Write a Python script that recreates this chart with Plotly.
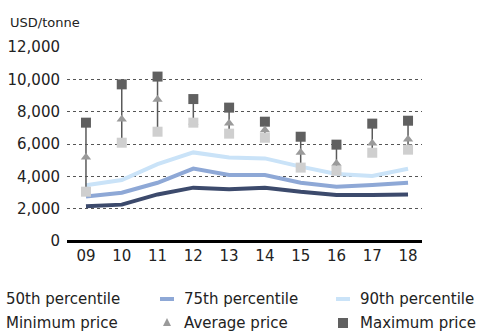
import plotly.graph_objects as go

years = ["09", "10", "11", "12", "13", "14", "15", "16", "17", "18"]
p50 = [2150, 2250, 2880, 3300, 3200, 3300, 3050, 2850, 2850, 2880]
p75 = [2750, 2990, 3600, 4480, 4080, 4080, 3600, 3360, 3460, 3600]
p90 = [3450, 3770, 4760, 5480, 5170, 5110, 4600, 4140, 4020, 4470]
min_price = [3050, 6080, 6760, 7320, 6640, 6390, 4540, 4350, 5460, 5650]
avg_price = [5180, 7530, 8760, 7350, 7280, 6860, 5480, 4800, 6040, 6290]
max_price = [7320, 9690, 10170, 8780, 8250, 7380, 6450, 5960, 7260, 7440]
y_ticks = [0, 2000, 4000, 6000, 8000, 10000, 12000]

FONT = "DejaVu Sans"
x = list(range(len(years)))

# plot area in pixels
W, H = 485, 334
L, R, T, B = 67, 63, 47, 93
PW, PH = W - L - R, H - T - B


def px(xp):
    return (xp - L) / PW


def py(yp):
    return (H - B - yp) / PH


fig = go.Figure()
line_styles = [(p50, "#3c4a6c"), (p75, "#8ea8d6"), (p90, "#cae3f8")]
for vals, col in line_styles:
    fig.add_trace(go.Scatter(x=x, y=vals, mode="lines",
                             line=dict(color=col, width=4), hoverinfo="skip"))

# range line from maximum down to minimum
fig.add_trace(go.Scatter(
    x=x, y=max_price, mode="markers", marker=dict(size=1, opacity=0),
    error_y=dict(type="data", symmetric=False, array=[0] * len(x),
                 arrayminus=[m - n for m, n in zip(max_price, min_price)],
                 width=0, thickness=1.5, color="#5a5a5a"),
    hoverinfo="skip"))
fig.add_trace(go.Scatter(x=x, y=max_price, mode="markers",
                         marker=dict(symbol="square", size=10, color="#606060")))
fig.add_trace(go.Scatter(x=x, y=avg_price, mode="markers",
                         marker=dict(symbol="triangle-up", size=9, color="#9a9a9a")))
fig.add_trace(go.Scatter(x=x, y=min_price, mode="markers",
                         marker=dict(symbol="square", size=10, color="#cfcfcf")))

# legend built from annotations and swatches
legend_rows = [
    [("50th percentile", None), ("75th percentile", ("line", "#8ea8d6")),
     ("90th percentile", ("line", "#cae3f8"))],
    [("Minimum price", None), ("Average price", ("tri", "#9a9a9a")),
     ("Maximum price", ("sq", "#606060"))],
]
col_text_x = [4, 182, 358]
row_y = [299, 323]
for r, row in enumerate(legend_rows):
    for c, (label, sw) in enumerate(row):
        fig.add_annotation(xref="paper", yref="paper", x=px(col_text_x[c]), y=py(row_y[r]),
                           text=label, showarrow=False, xanchor="left", yanchor="middle",
                           font=dict(family=FONT, size=15, color="#222"))
        if sw is None:
            continue
        kind, col = sw
        sx = col_text_x[c] - 15
        yc = row_y[r]
        if kind == "line":
            fig.add_shape(type="rect", xref="paper", yref="paper",
                          x0=px(sx - 7), x1=px(sx + 7), y0=py(yc + 2), y1=py(yc - 2),
                          line=dict(width=0), fillcolor=col)
        elif kind == "tri":
            fig.add_shape(type="path", xref="paper", yref="paper",
                          path=f"M {px(sx-4)} {py(yc+3)} L {px(sx+4)} {py(yc+3)} L {px(sx)} {py(yc-5)} Z",
                          line=dict(width=0), fillcolor=col)
        else:
            fig.add_shape(type="rect", xref="paper", yref="paper",
                          x0=px(sx - 5), x1=px(sx + 5), y0=py(yc + 5), y1=py(yc - 5),
                          line=dict(width=0), fillcolor=col)

fig.add_annotation(xref="paper", yref="paper", x=px(8), y=py(22),
                   text="USD/tonne", showarrow=False, xanchor="left", yanchor="middle",
                   font=dict(family=FONT, size=13, color="#222"))

fig.update_layout(
    width=W, height=H, showlegend=False,
    margin=dict(l=L, r=R, t=T, b=B),
    paper_bgcolor="white", plot_bgcolor="white",
    font=dict(family=FONT, size=15, color="#222"),
    xaxis=dict(range=[-0.53, 9.39], tickvals=x, ticktext=years, showgrid=False,
               zeroline=False, showline=False, ticks="", ticklabelstandoff=4,
               automargin=False),
    yaxis=dict(range=[0, 12000], tickvals=y_ticks, tickformat=",", showgrid=True,
               gridcolor="#555", griddash="dot", gridwidth=1, zeroline=True,
               zerolinecolor="#000", zerolinewidth=2.5, showline=False, ticks="",
               ticklabelstandoff=6, automargin=False),
)

fig.write_html("out.html")
